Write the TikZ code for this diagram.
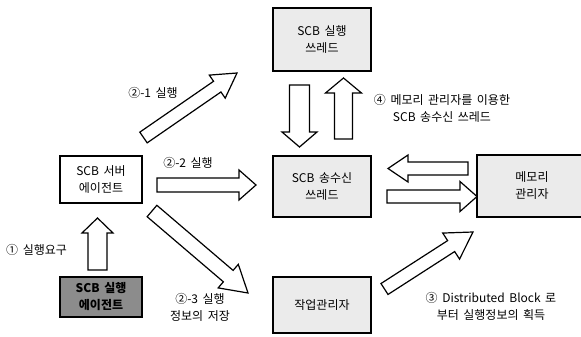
\documentclass[tikz,border=0pt]{standalone}
\usepackage{fontspec}
\setmainfont{Noto Sans CJK KR}[WordSpace=1.7]
\usetikzlibrary{calc}
% #1 extra style, #2 tail centre, #3 tip, #4 shaft half width, #5 head half width, #6 head length
\newcommand\fatarrow[6][]{%
  \coordinate (fa-h) at ($(#3)!#6!(#2)$);
  \draw[fatarrowstyle,#1]
    ($(#2)!#4!90:(#3)$) -- ($(fa-h)!#4!90:(#3)$) -- ($(fa-h)!#5!90:(#3)$) -- (#3)
    -- ($(fa-h)!#5!-90:(#3)$) -- ($(fa-h)!#4!-90:(#3)$) -- ($(#2)!#4!-90:(#3)$) -- cycle;
}
\tikzset{
  fatarrowstyle/.style={draw=black, fill=white, line width=1.2pt, line join=miter},
  box/.style={draw=black, line width=1.5pt, align=center, inner sep=0pt,
              font=\fontsize{12}{17}\selectfont},
  lightbox/.style={box, fill=black!8},
  whitebox/.style={box, fill=white},
  darkbox/.style={box, fill=black!45, font=\fontsize{12}{17}\selectfont\bfseries},
  lbl/.style={align=center, inner sep=0pt, font=\fontsize{12}{17}\selectfont}
}
\begin{document}
\begin{tikzpicture}[x=1pt, y=-1pt]
\useasboundingbox (0,0) rectangle (581,337);
\fill[white] (0,0) rectangle (581,337);

% boxes
\node[lightbox, minimum width=98pt, minimum height=63pt] (thread) at (322,39.5) {SCB 실행\\쓰레드};
\node[lightbox, minimum width=98pt, minimum height=61pt] (comm) at (322,186.5) {SCB 송수신\\쓰레드};
\node[lightbox, minimum width=110pt, minimum height=62pt] (mem) at (532,186) {메모리\\관리자};
\node[whitebox, minimum width=82pt, minimum height=47pt] (server) at (101,179.5) {SCB 서버\\에이전트};
\node[darkbox, minimum width=82pt, minimum height=40pt] (agent) at (101,297) {SCB 실행\\에이전트};
\node[lightbox, minimum width=98pt, minimum height=56pt] (job) at (322,305) {작업관리자};

% arrow end points
\coordinate (a21s) at (143.5,137.5); \coordinate (a21e) at (237,73);
\coordinate (a22s) at (157,185);     \coordinate (a22e) at (256,185);
\coordinate (a23s) at (152,211);     \coordinate (a23e) at (248,293);
\coordinate (a1s)  at (97.5,270);    \coordinate (a1e)  at (97.5,218);
\coordinate (dns)  at (299.5,85);    \coordinate (dne)  at (299.5,147);
\coordinate (ups)  at (343.5,139);   \coordinate (upe)  at (343.5,78);
\coordinate (lfs)  at (468,168.5);   \coordinate (lfe)  at (388,168.5);
\coordinate (rts)  at (387,196.5);   \coordinate (rte)  at (477,196.5);
\coordinate (a3s)  at (384.5,289);   \coordinate (a3e)  at (473,232);

\fatarrow{a21s}{a21e}{6.5pt}{14pt}{24pt}
\fatarrow{a22s}{a22e}{7pt}{15pt}{17pt}
\fatarrow{a23s}{a23e}{7.5pt}{15.5pt}{26pt}
\fatarrow{a1s}{a1e}{9.5pt}{15.5pt}{15pt}
\fatarrow{dns}{dne}{10pt}{17.5pt}{15pt}
\fatarrow{ups}{upe}{9pt}{18pt}{15pt}
\fatarrow{lfs}{lfe}{6.5pt}{13.5pt}{20pt}
\fatarrow{rts}{rte}{6.5pt}{15pt}{17pt}
\fatarrow{a3s}{a3e}{6.5pt}{15.5pt}{26pt}

% labels
\node[lbl] (l21) at (153,93) {②-1 실행};
\node[lbl] (l22) at (188,163) {②-2 실행};
\node[lbl, anchor=west] (l1) at (6,250) {① 실행요구};
\node[lbl] (l23) at (200,307.5) {②-3 실행\\정보의 저장};
\node[lbl] (l4) at (442,108.5) {④ 메모리 관리자를 이용한\\SCB 송수신 쓰레드};
\node[lbl] (l3) at (491,306.5) {③ Distributed Block 로\\부터 실행정보의 획득};
\end{tikzpicture}
\end{document}
